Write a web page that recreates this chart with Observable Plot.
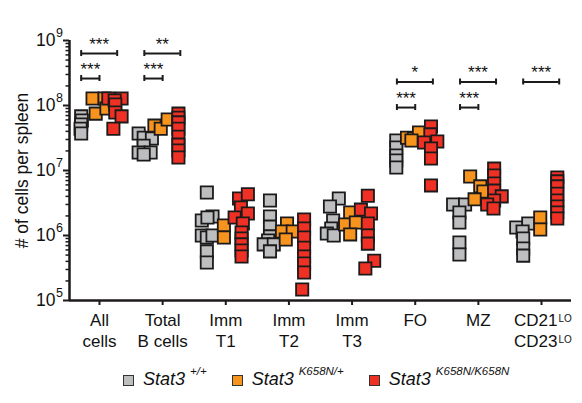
<!DOCTYPE html>
<html>
<head>
<meta charset="utf-8">
<script src="https://cdn.jsdelivr.net/npm/d3@7"></script>
<script src="https://cdn.jsdelivr.net/npm/@observablehq/plot@0.6"></script>
<style>
  body { margin: 0; background: #fff; font-family: "Liberation Sans", Arial, sans-serif; width: 582px; }
  #chart svg { display: block; }
  #legend { height: 48px; display: flex; align-items: center; padding-left: 123px; font-size: 18px; color: #111; }
  #legend .item { display: flex; align-items: center; margin-right: 25px; white-space: nowrap; }
  #legend .sw { width: 9px; height: 9px; border: 1.5px solid #333; margin-right: 9px; margin-top: 2px; }
  #legend i { font-style: italic; }
  #legend sup { font-size: 11.5px; font-style: italic; vertical-align: 0; position: relative; top: -8px; margin-left: 5px; }
</style>
</head>
<body>
<div id="chart"></div>
<div id="legend"></div>
<script>
// ---- categories and labels ----
const categories = ["All\ncells", "Total\nB cells", "Imm\nT1", "Imm\nT2", "Imm\nT3", "FO", "MZ", "CD21\nCD23"];
const categorySup = ["", "", "", "", "", "", "", "LO\nLO"];
const genotypes = ["+/+", "K658N/+", "K658N/K658N"];
const genotypeColors = ["#bdbec0", "#f7941e", "#ee3124"];
const yTicks = [1e5, 1e6, 1e7, 1e8, 1e9];
const yTitle = "# of cells per spleen";

// ---- values (cells per spleen), one list per category ----
const wtValues = [
  [6.8e7, 5.9e7, 5.1e7, 4.4e7, 3.7e7],
  [3.7e7, 3.2e7, 3.1e7, 2.4e7, 1.89e7, 1.89e7, 1.76e7],
  [4.6e6, 1.70e6, 1.96e6, 1.89e6, 1.0e6, 9.3e5, 1.0e6, 5.7e5, 3.85e5],
  [3.45e6, 1.96e6, 1.37e6, 9.7e5, 8.4e5, 7.3e5, 7.3e5, 5.7e5],
  [3.7e6, 2.8e6, 1.70e6, 1.28e6, 1.07e6, 1.0e6],
  [2.9e7, 2.26e7, 1.70e7, 1.43e7, 1.11e7],
  [3.0e6, 3.0e6, 2.26e6, 1.58e6, 7.8e5, 5.1e5],
  [1.33e6, 1.53e6, 1.15e6, 9.0e5, 6.3e5, 4.9e5]
];
const wtJitter = [
  [-0.29, -0.28, -0.29, -0.30, -0.29],
  [-0.38, -0.30, -0.17, -0.30, -0.38, -0.19, -0.30],
  [-0.30, -0.38, -0.21, -0.29, -0.38, -0.30, -0.21, -0.30, -0.30],
  [-0.30, -0.30, -0.30, -0.30, -0.33, -0.40, -0.24, -0.30],
  [-0.21, -0.35, -0.30, -0.33, -0.40, -0.29],
  [-0.30, -0.30, -0.30, -0.30, -0.30],
  [-0.40, -0.21, -0.30, -0.30, -0.30, -0.30],
  [-0.40, -0.21, -0.30, -0.29, -0.29, -0.29]
];
const hetValues = [
  [1.28e8, 1.28e8, 7.5e7, 9.0e7],
  [4.9e7, 4.4e7, 6.1e7],
  [1.43e6, 9.3e5],
  [1.53e6, 1.15e6, 1.15e6, 8.7e5],
  [2.26e6, 1.48e6, 1.58e6, 1.04e6],
  [3.2e7, 3.1e7, 3.85e7, 2.9e7],
  [8.1e6, 5.7e6, 4.75e6, 3.6e6],
  [1.89e6, 1.24e6]
];
const hetJitter = [
  [-0.11, 0.08, -0.06, 0.11],
  [-0.13, -0.03, 0.08],
  [-0.03, -0.03],
  [-0.03, -0.11, 0.06, -0.05],
  [-0.03, -0.11, 0.06, -0.03],
  [-0.13, -0.02, 0.06, -0.06],
  [-0.13, 0.03, 0.08, -0.06],
  [-0.02, -0.02]
];
const homValues = [
  [1.28e8, 1.28e8, 1.19e8, 1.04e8, 7.8e7, 6.8e7, 4.4e7],
  [7.5e7, 6.5e7, 5.5e7, 4.4e7, 3.3e7, 2.5e7, 2.03e7, 1.58e7],
  [3.7e6, 4.3e6, 2.7e6, 2.18e6, 1.89e6, 1.53e6, 1.11e6, 9.0e5, 7.3e5, 5.9e5, 4.75e5],
  [1.76e6, 1.28e6, 9.3e5, 6.5e5, 4.75e5, 3.7e5, 2.7e5, 1.48e5],
  [4.1e6, 2.5e6, 2.18e6, 1.53e6, 1.0e6, 7.5e5, 4.1e5, 3.1e5],
  [4.75e7, 3.6e7, 2.7e7, 2.8e7, 2.18e7, 1.53e7, 5.9e6],
  [1.07e7, 8.4e6, 6.3e6, 4.9e6, 4.0e6, 3.45e6, 3.0e6, 2.6e6],
  [7.8e6, 6.8e6, 5.7e6, 4.4e6, 3.45e6, 2.8e6, 2.26e6, 1.83e6]
];
const homJitter = [
  [0.14, 0.35, 0.24, 0.25, 0.25, 0.35, 0.22],
  [0.25, 0.25, 0.25, 0.25, 0.25, 0.25, 0.25, 0.25],
  [0.21, 0.35, 0.24, 0.35, 0.14, 0.27, 0.25, 0.25, 0.25, 0.25, 0.25],
  [0.24, 0.24, 0.24, 0.24, 0.24, 0.24, 0.24, 0.21],
  [0.25, 0.14, 0.30, 0.25, 0.25, 0.25, 0.35, 0.21],
  [0.25, 0.24, 0.14, 0.35, 0.25, 0.25, 0.25],
  [0.25, 0.25, 0.25, 0.25, 0.37, 0.25, 0.14, 0.24],
  [0.25, 0.25, 0.25, 0.25, 0.25, 0.25, 0.25, 0.25]
];

// ---- significance brackets (vs +/+) ----
const sigCategory = [0, 0, 1, 1, 5, 5, 6, 6, 7];
const sigAgainst  = [2, 1, 2, 1, 2, 1, 2, 1, 2];
const sigLabel    = ["***", "***", "**", "***", "*", "***", "***", "***", "***"];
const sigLevel    = [6.3e8, 2.6e8, 6.3e8, 2.6e8, 2.3e8, 9.3e7, 2.3e8, 9.3e7, 2.3e8];

// ---- build tables ----
const valueSets = [wtValues, hetValues, homValues];
const jitterSets = [wtJitter, hetJitter, homJitter];
const points = [];
valueSets.forEach((set, g) => set.forEach((vals, c) => vals.forEach((v, i) => {
  points.push({genotype: genotypes[g], x: c + jitterSets[g][c][i], value: v});
})));
const bracketStart = -0.29, bracketEnd = [0, 0, 0.28];
const brackets = sigCategory.map((c, i) => ({
  x1: c + bracketStart, x2: c + bracketEnd[sigAgainst[i]], y: sigLevel[i], label: sigLabel[i]
}));
const labelLines = [];
categories.forEach((c, i) => c.split("\n").forEach((t, line) => {
  const sup = categorySup[i] ? categorySup[i].split("\n")[line] : "";
  labelLines.push({i, line, text: t, sup});
}));
const minorTicks = [];
for (let e = 5; e < 9; e++) for (let k = 2; k <= 9; k++) minorTicks.push(k * 10 ** e);

const xDomain = [-0.475, 7.475];
const ink = "#1c1a1b";
const textInk = "#111111";
const lineGap = 21;

function labelMarks(line) {
  const rows = labelLines.filter(d => d.line === line);
  const dy = 20.5 + line * lineGap;
  return [
    Plot.text(rows.filter(d => !d.sup), {x: "i", y: 1e5, text: "text", fontSize: 17, fill: textInk, dy}),
    Plot.text(rows.filter(d => d.sup), {x: "i", y: 1e5, text: "text", fontSize: 17, fill: textInk, dy, dx: 16, textAnchor: "end"}),
    Plot.text(rows.filter(d => d.sup), {x: "i", y: 1e5, text: "sup", fontSize: 10, fill: textInk, dy: dy - 2.5, dx: 17, textAnchor: "start"})
  ];
}

const chart = Plot.plot({
  width: 582, height: 355,
  marginLeft: 69, marginRight: 11, marginTop: 40, marginBottom: 55,
  style: {fontFamily: '"Liberation Sans", Arial, sans-serif', background: "white", color: textInk},
  x: {domain: xDomain, axis: null},
  y: {type: "log", domain: [1e5, 1e9], axis: null},
  color: {domain: genotypes, range: genotypeColors},
  marks: [
    Plot.axisY(minorTicks, {tickSize: 3.5, tickFormat: () => "", strokeWidth: 1.5, stroke: ink, label: null}),
    Plot.axisY(yTicks, {tickSize: 6, tickFormat: () => "", strokeWidth: 2, stroke: ink, label: null}),
    Plot.axisX(d3.range(categories.length), {tickSize: 5, tickFormat: () => "", strokeWidth: 2, stroke: ink, label: null}),
    Plot.ruleX([xDomain[0]], {y1: 1e5, y2: 1e9, strokeWidth: 2.5, stroke: ink}),
    Plot.ruleY([1e5], {x1: xDomain[0], x2: xDomain[1], strokeWidth: 2.5, stroke: ink}),
    // y tick labels 10^n
    Plot.text(yTicks, {x: xDomain[0], y: d => d, text: () => "10", textAnchor: "end", dx: -14, fontSize: 17.5, fill: textInk}),
    Plot.text(yTicks, {x: xDomain[0], y: d => d, text: d => String(Math.round(Math.log10(d))), textAnchor: "start", dx: -13.5, dy: -8, fontSize: 12.5, fill: textInk}),
    // y axis title
    Plot.text([yTitle], {x: xDomain[0], y: 1e7, text: d => d, rotate: -90, dx: -47, fontSize: 17.5, fill: textInk}),
    // x labels
    ...labelMarks(0),
    ...labelMarks(1),
    // points
    Plot.dot(points, {x: "x", y: "value", symbol: "square", r: 6.9, fill: "genotype", stroke: ink, strokeWidth: 1.8}),
    // brackets
    Plot.ruleY(brackets, {x1: "x1", x2: "x2", y: "y", strokeWidth: 2, stroke: ink}),
    Plot.ruleX(brackets, {x: "x1", y1: "y", y2: "y", insetTop: -3, insetBottom: -3, strokeWidth: 2, stroke: ink}),
    Plot.ruleX(brackets, {x: "x2", y1: "y", y2: "y", insetTop: -3, insetBottom: -3, strokeWidth: 2, stroke: ink}),
    Plot.text(brackets, {x: d => (d.x1 + d.x2) / 2, y: "y", text: "label", dy: -9, fontSize: 17, fill: textInk})
  ]
});
document.getElementById("chart").append(chart);

// legend
const legend = document.getElementById("legend");
genotypes.forEach((g, i) => {
  const item = document.createElement("span");
  item.className = "item";
  item.innerHTML = `<span class="sw" style="background:${genotypeColors[i]}"></span><i>Stat3</i><sup>${g}</sup>`;
  legend.append(item);
});
</script>
</body>
</html>
